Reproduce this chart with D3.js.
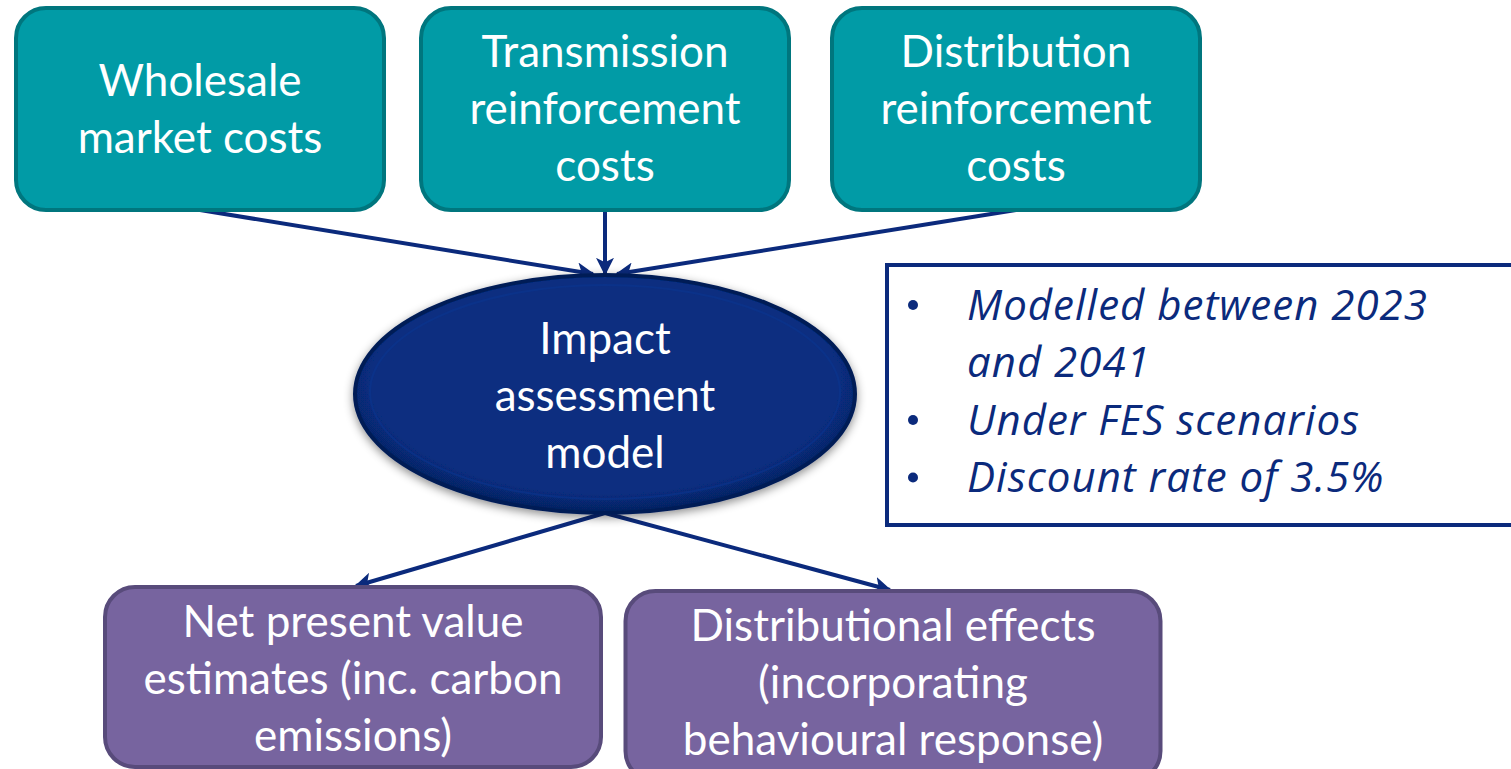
<!DOCTYPE html>
<html>
<head>
<meta charset="utf-8">
<script src="https://cdn.jsdelivr.net/npm/d3@7"></script>
<style>
  html, body { margin: 0; padding: 0; background: #fff; overflow: hidden; }
  svg { display: block; font-family: Lato, "Open Sans", sans-serif; }
</style>
</head>
<body>
<script>
// labels for each node of the flow
const inputLabels = [
    ["Wholesale", "market costs"],
    ["Transmission", "reinforcement", "costs"],
    ["Distribution", "reinforcement", "costs"]
]
const modelLabel = ["Impact", "assessment", "model"]
const outputLabels = [
    ["Net present value", "estimates (inc. carbon", "emissions)"],
    ["Distributional effects", "(incorporating", "behavioural response)"]
]
const noteLines = [
    ["Modelled between 2023", "and 2041"],
    ["Under FES scenarios"],
    ["Discount rate of 3.5%"]
]

const W = 1511, H = 769
const svg = d3.select("body").append("svg")
    .attr("width", W)
    .attr("height", H)

const navy = "#0b2a7c"
const lineH = 57

const defs = svg.append("defs")
defs.append("marker")
    .attr("id", "arrow")
    .attr("viewBox", "0 0 10 10")
    .attr("refX", 9).attr("refY", 5)
    .attr("markerWidth", 4.5).attr("markerHeight", 4.5)
    .attr("orient", "auto")
    .append("path")
    .attr("d", "M0,0 L10,5 L0,10 L2.5,5 Z")
    .attr("fill", navy)

let shadow = defs.append("filter").attr("id", "shadow")
    .attr("x", "-10%").attr("y", "-10%").attr("width", "120%").attr("height", "130%")
shadow.append("feDropShadow")
    .attr("dx", 0).attr("dy", 3).attr("stdDeviation", 5)
    .attr("flood-color", "#000").attr("flood-opacity", 0.45)

let grad = defs.append("radialGradient").attr("id", "ellGrad")
    .attr("cx", "50%").attr("cy", "45%").attr("r", "55%")
grad.append("stop").attr("offset", "85%").attr("stop-color", "#072e80")
grad.append("stop").attr("offset", "100%").attr("stop-color", "#06215f")

// layout (centres of each node)
const topCx = [200, 605, 1016]
const botCx = [353, 893]
const topBox = { w: 368, h: 202, y: 8 }
const botBox = [{ w: 496, y: 587, h: 180, cy: 679 }, { w: 535, y: 591, h: 190, cy: 683 }]
const botTips = [356, 890]
const ell = { cx: 605, cy: 394, rx: 250, ry: 119 }

function writeLines(g, lines, cx, cy, size) {
    let n = lines.length
    g.selectAll("text.lbl")
        .data(lines)
        .join("text")
        .attr("class", "lbl")
        .attr("x", cx)
        .attr("y", (d, i) => cy + (i - (n - 1) / 2) * lineH)
        .attr("dy", "0.35em")
        .attr("text-anchor", "middle")
        .attr("fill", "#fff")
        .attr("font-size", size)
        .text(d => d)
}

// arrows first so boxes sit on top
let arrows = svg.append("g")
inputLabels.forEach((d, i) => {
    arrows.append("line")
        .attr("x1", topCx[i]).attr("y1", topBox.y + topBox.h)
        .attr("x2", ell.cx + (i - 1) * 12).attr("y2", ell.cy - ell.ry - 1)
        .attr("stroke", navy).attr("stroke-width", 4)
        .attr("marker-end", "url(#arrow)")
})
outputLabels.forEach((d, i) => {
    arrows.append("line")
        .attr("x1", ell.cx).attr("y1", ell.cy + ell.ry)
        .attr("x2", botTips[i]).attr("y2", botBox[i].y - 1)
        .attr("stroke", navy).attr("stroke-width", 4)
        .attr("marker-end", "url(#arrow)")
})

// top boxes
inputLabels.forEach((lines, i) => {
    let g = svg.append("g")
    let cx = topCx[i]
    g.append("rect")
        .attr("x", cx - topBox.w / 2).attr("y", topBox.y)
        .attr("width", topBox.w).attr("height", topBox.h)
        .attr("rx", 30)
        .attr("fill", "#019ba6")
        .attr("stroke", "#00767e").attr("stroke-width", 4)
    writeLines(g, lines, cx, topBox.y + topBox.h / 2, 44)
})

// central ellipse
let eg = svg.append("g")
eg.append("ellipse")
    .attr("cx", ell.cx).attr("cy", ell.cy)
    .attr("rx", ell.rx).attr("ry", ell.ry)
    .attr("fill", "url(#ellGrad)")
    .attr("stroke", "#061d57").attr("stroke-width", 4)
    .attr("filter", "url(#shadow)")
eg.append("ellipse")
    .attr("cx", ell.cx).attr("cy", ell.cy - 2)
    .attr("rx", ell.rx - 15).attr("ry", ell.ry - 12)
    .attr("fill", "none")
    .attr("stroke", "#0a3590").attr("stroke-width", 2).attr("opacity", 0.6)
writeLines(eg, modelLabel, ell.cx, ell.cy + 2, 44)

// bottom boxes
outputLabels.forEach((lines, i) => {
    let g = svg.append("g")
    let cx = botCx[i]
    let b = botBox[i]
    g.append("rect")
        .attr("x", cx - b.w / 2).attr("y", b.y)
        .attr("width", b.w).attr("height", b.h)
        .attr("rx", 30)
        .attr("fill", "#77649f")
        .attr("stroke", "#584b7b").attr("stroke-width", 4)
    writeLines(g, lines, cx, b.cy, 44)
})

// notes box on the right
let ng = svg.append("g")
ng.append("rect")
    .attr("x", 887).attr("y", 265)
    .attr("width", 700).attr("height", 260)
    .attr("fill", "#fff")
    .attr("stroke", navy).attr("stroke-width", 4)

let rowY = 305, noteLineH = 57.5
noteLines.forEach(item => {
    ng.append("circle")
        .attr("cx", 913).attr("cy", rowY)
        .attr("r", 5)
        .attr("fill", navy)
    item.forEach(t => {
        ng.append("text")
            .attr("x", 967).attr("y", rowY)
            .attr("dy", "0.35em")
            .attr("fill", navy)
            .attr("font-family", "'Open Sans', sans-serif")
            .attr("font-size", 42)
            .attr("letter-spacing", 1)
            .attr("font-style", "italic")
            .text(t)
        rowY += noteLineH
    })
})
</script>
</body>
</html>
